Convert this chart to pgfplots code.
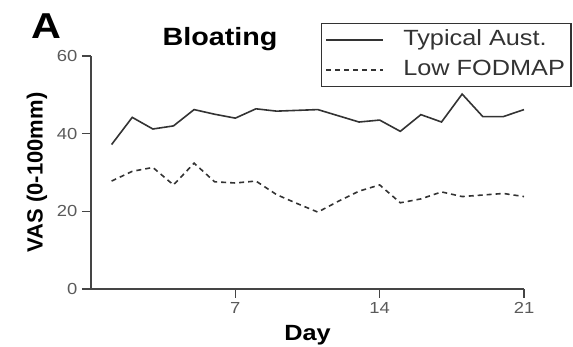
\documentclass[border=0pt]{standalone}
\usepackage{fontspec}
\setmainfont{Liberation Sans}[FakeStretch=1.15]
\newfontfamily\plainfont{Liberation Sans}
\usepackage{pgfplots}
\pgfplotsset{compat=1.18}
\definecolor{ink}{HTML}{333333}
\definecolor{axc}{HTML}{454545}
\definecolor{tkc}{HTML}{5A5A5A}
\begin{document}
\begin{tikzpicture}
\useasboundingbox (-91pt,-58pt) rectangle (482pt,289pt);
\begin{axis}[
  at={(0pt,0pt)}, anchor=south west,
  scale only axis, width=433pt, height=233pt,
  xmin=0, xmax=21, ymin=0, ymax=60,
  axis x line*=bottom, axis y line*=left,
  axis line style={axc, line width=1.6pt, -},
  xtick={7,14,21}, ytick={0,20,40,60},
  tick align=outside, major tick length=9pt,
  tick style={axc, line width=1.4pt},
  tick label style={tkc, font=\fontsize{16}{18}\selectfont},
  /pgf/number format/assume math mode=true,
  xticklabel style={yshift=-1pt},
  yticklabel style={xshift=-1pt},
  clip=false,
  xlabel={Day},
  xlabel style={font=\bfseries\fontsize{22}{24}\selectfont, at={(axis description cs:0.5,-0.219)}, anchor=base},
  ylabel={VAS (0-100mm)},
  ylabel style={font=\plainfont\bfseries\fontsize{22}{24}\selectfont, at={(axis description cs:-0.125,0.5)}, anchor=center},
  legend style={at={(axis description cs:1.11,1.142)}, anchor=north east,
    draw=ink, line width=1.4pt, inner xsep=4pt, inner ysep=4pt,
    font=\fontsize{22}{24}\selectfont, text=ink,
    nodes={inner sep=2pt, text height=16pt, text depth=5pt},
    row sep=5pt,
    /tikz/every odd column/.append style={column sep=17pt}},
  legend cell align=left,
  legend image code/.code={\draw[#1] (0pt,0pt) -- (57pt,0pt);},
]
\addplot[ink, line width=1.6pt] coordinates {
(1,37.2) (2,44.2) (3,41.2) (4,42.0) (5,46.2) (6,45.0) (7,44.0) (8,46.4) (9,45.8) (10,46.0) (11,46.2)
(12,44.6) (13,43.0) (14,43.5) (15,40.6) (16,44.9) (17,43.0) (18,50.2) (19,44.4) (20,44.4) (21,46.2)};
\addlegendentry{Typical Aust.}
\addplot[ink, line width=1.6pt, dash pattern=on 5pt off 4pt] coordinates {
(1,27.8) (2,30.3) (3,31.3) (4,26.8) (5,32.4) (6,27.6) (7,27.3) (8,27.8) (9,24.3) (10,22.0) (11,19.8)
(12,22.6) (13,25.2) (14,26.8) (15,22.2) (16,23.2) (17,25.0) (18,23.8) (19,24.2) (20,24.6) (21,23.8)};
\addlegendentry{Low FODMAP}
\node[font=\bfseries\fontsize{25}{28}\selectfont, anchor=base] at (axis description cs:0.298,1.047) {Bloating};
\node[font=\bfseries\fontsize{36}{40}\selectfont, anchor=base] at (axis description cs:-0.102,1.073) {A};
\end{axis}
\end{tikzpicture}
\end{document}
